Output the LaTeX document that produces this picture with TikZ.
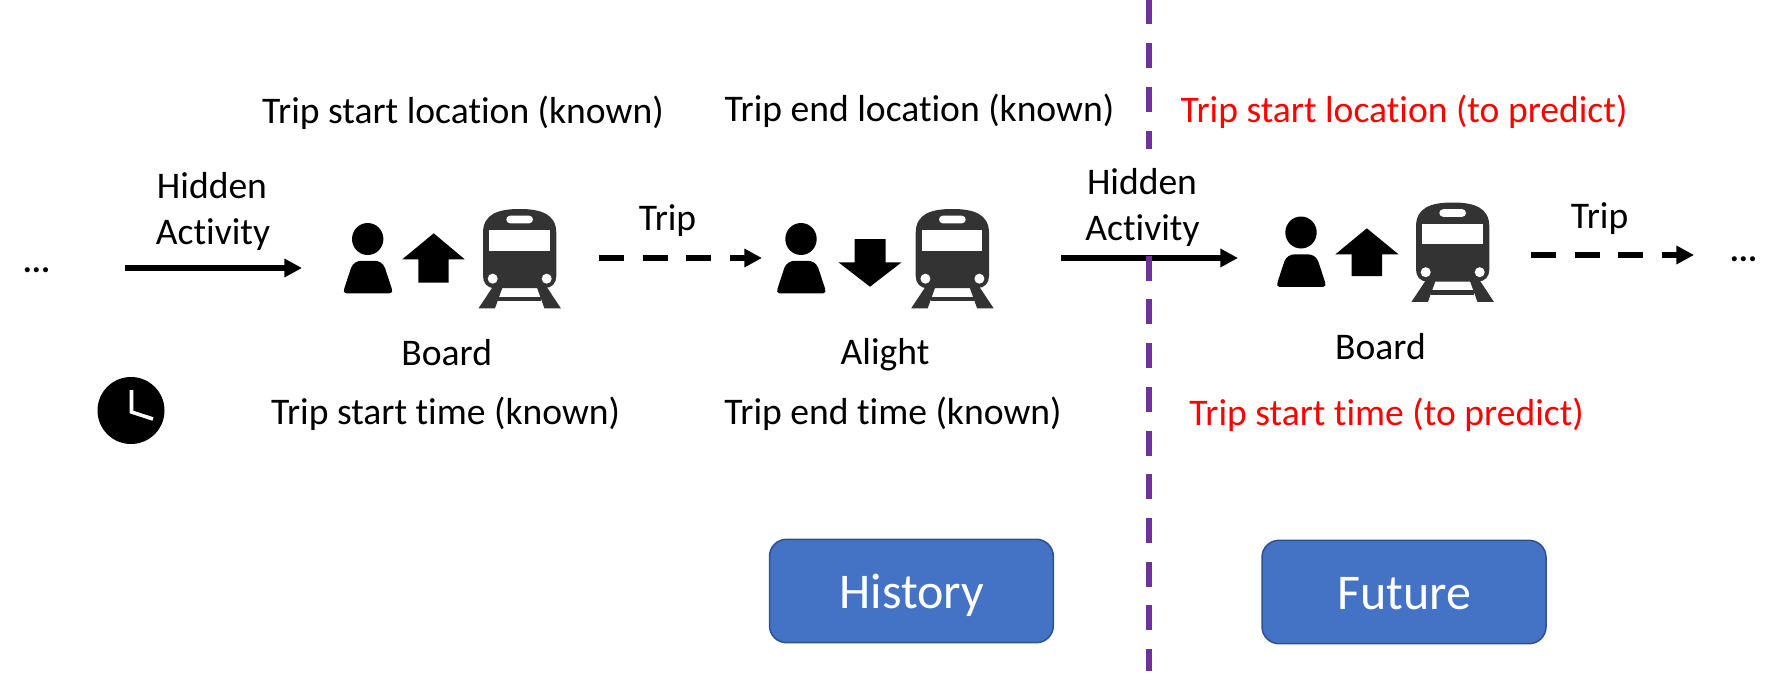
\documentclass[tikz,border=0pt]{standalone}
\usepackage{fontspec}
\setmainfont{Carlito}[Ligatures=NoCommon]
\usetikzlibrary{arrows.meta}
\definecolor{purp}{HTML}{7030A0}
\definecolor{boxblue}{HTML}{4472C4}
\definecolor{boxedge}{HTML}{2F528F}
\definecolor{traingray}{HTML}{333333}
\tikzset{
  lbl/.style={inner sep=0pt,font=\fontsize{18.8}{22}\selectfont,text=black,anchor=center},
  redlbl/.style={lbl,text=red},
  dots/.style={inner sep=0pt,font=\fontsize{17}{22}\bfseries\selectfont,anchor=center},
  solidarrow/.style={line width=3pt,-{Triangle[length=8.8pt,width=8.8pt]}},
  dasharrow/.style={solidarrow,dash pattern=on 12.5pt off 9.35pt},
  divider/.style={purp,line width=3pt,dash pattern=on 12.5pt off 9.35pt},
  future/.style={rounded corners=8.5pt,fill=boxblue,draw=boxedge,line width=0.75pt},
  boxlbl/.style={inner sep=0pt,text=white,font=\fontsize{25}{28}\selectfont},
  person/.pic={
    \fill (367.7,239) ellipse [x radius=15.7,y radius=16];
    \fill (346,293.3) .. controls (343.5,293.3) and (343.5,291) .. (344.3,288.5)
      -- (351,268) .. controls (353,263) and (357,260.8) .. (362,260.8)
      -- (374,260.8) .. controls (379,260.8) and (383,263) .. (385,268)
      -- (391.7,288.5) .. controls (392.5,291) and (392.5,293.3) .. (390,293.3) -- cycle;
  },
  train/.pic={
    \fill[traingray] (483,233) .. controls (483,214) and (498,209) .. (519.7,209)
      .. controls (541,209) and (556.3,214) .. (556.3,233) -- (556.3,276)
      .. controls (556.3,283) and (552,288) .. (545,288) -- (494.3,288)
      .. controls (487,288) and (483,283) .. (483,276) -- cycle;
    \fill[white] (489.3,230) rectangle (549.7,250.7);
    \fill[white,rounded corners=1.9pt] (506.3,215.7) rectangle (533,223.3);
    \fill[white] (492.7,278.7) circle [radius=5];
    \fill[white] (546.7,278.7) circle [radius=5];
    \fill[traingray] (493.3,286) -- (503,286) -- (495,308.3) -- (478.5,308.3) -- cycle;
    \fill[traingray] (546.1,286) -- (536.4,286) -- (544.4,308.3) -- (560.9,308.3) -- cycle;
    \fill[traingray] (498.3,296.7) rectangle (541.1,301);
  }
}
\begin{document}
\begin{tikzpicture}[x=0.5pt,y=-0.5pt]
\useasboundingbox (0,0) rectangle (1780,674);
% ellipses
\node[dots] (d1) at (36.5,270) {...};
\node[dots] (d2) at (1743.5,259) {...};
% clock
\fill (131,410.5) circle [radius=33.5];
\draw[white,line width=1.8pt] (131.5,390) -- (131.5,412) -- (153,419);
% icons
\pic at (0,0) {person};
\pic at (433.3,0) {person};
\pic at (933.3,-6.5) {person};
\pic at (0,0) {train};
\pic at (432.7,0) {train};
\pic at (933,-6.5) {train};
% up / down arrows
\fill (433.7,233.3) -- (464.7,259.3) -- (448.7,259.3) -- (448.7,282.7) -- (418.3,282.7) -- (418.3,259.3) -- (402.3,259.3) -- cycle;
\fill (870,286.7) -- (901.6,262.3) -- (885.5,262.3) -- (885.5,239) -- (854.5,239) -- (854.5,262.3) -- (838.4,262.3) -- cycle;
\fill (1366.8,228.3) -- (1398.5,254.3) -- (1382,254.3) -- (1382,276.2) -- (1351.6,276.2) -- (1351.6,254.3) -- (1335.4,254.3) -- cycle;
% connectors
\coordinate (a1s) at (125,268); \coordinate (a1e) at (302,268);
\coordinate (t1s) at (599,258); \coordinate (t1e) at (762,258);
\coordinate (a2s) at (1061,258); \coordinate (a2e) at (1238,258);
\coordinate (t2s) at (1531,255); \coordinate (t2e) at (1694,255);
\draw[solidarrow] (a1s) -- (a1e);
\draw[dasharrow] (t1s) -- (t1e);
\draw[solidarrow] (a2s) -- (a2e);
\draw[dasharrow] (t2s) -- (t2e);
% purple divider, interrupted behind the second Hidden Activity label
\coordinate (divtop) at (1149,-0.5);
\coordinate (diva) at (1149,148.7);
\coordinate (divb) at (1149,255.7);
\coordinate (divbot) at (1149,671);
\draw[divider] (divtop) -- (diva);
\draw[divider] (divb) -- (divbot);
% labels
\node[lbl] (h1a) at (212,186) {Hidden};
\node[lbl] (h1b) at (213,234.5) {Activity};
\node[lbl] (h2a) at (1142,182) {Hidden};
\node[lbl] (h2b) at (1142.5,230.5) {Activity};
\node[lbl] (tr1) at (667.5,221) {Trip};
\node[lbl] (tr2) at (1599.6,218.5) {Trip};
\node[lbl] (sl) at (463,113) {Trip start location (known)};
\node[lbl] (el) at (919.5,111) {Trip end location (known)};
\node[redlbl] (sl2) at (1404,112) {Trip start location (to predict)};
\node[lbl] (bd1) at (446.7,353) {Board};
\node[lbl] (al) at (885,355) {Alight};
\node[lbl] (bd2) at (1380.5,347) {Board};
\node[lbl] (st) at (445.6,414) {Trip start time (known)};
\node[lbl] (et) at (893,414) {Trip end time (known)};
\node[redlbl] (st2) at (1386.6,415) {Trip start time (to predict)};
% boxes
\draw[future] (769.5,539.3) rectangle (1053.3,642.7);
\node[boxlbl] (hist) at (912,595.5) {History};
\draw[future] (1262,540.3) rectangle (1546,643.7);
\node[boxlbl] (fut) at (1404.7,594) {Future};
\end{tikzpicture}
\end{document}
